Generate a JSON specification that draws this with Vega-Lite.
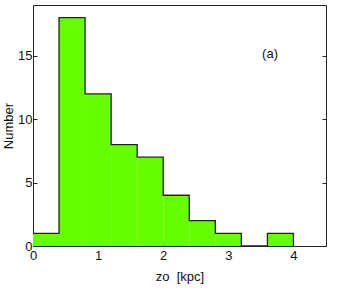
{
  "$schema": "https://vega.github.io/schema/vega-lite/v6.json",
  "width": 293,
  "height": 241,
  "autosize": {"type": "none"},
  "padding": {"left": 33, "top": 5, "right": 12, "bottom": 45},
  "background": "white",
  "config": {
    "view": {"stroke": "#222222", "strokeWidth": 1},
    "font": "Liberation Sans",
    "axis": {"grid": false, "domain": false, "tickColor": "#222222", "labelColor": "#111111", "titleColor": "#111111", "labelFontSize": 13, "titleFontSize": 13, "titleFontWeight": "normal", "labelFont": "Liberation Sans", "titleFont": "Liberation Sans"}
  },
  "datasets": {
    "bins": [
      {"start": 0.0, "end": 0.4, "count": 1},
      {"start": 0.4, "end": 0.8, "count": 18},
      {"start": 0.8, "end": 1.2, "count": 12},
      {"start": 1.2, "end": 1.6, "count": 8},
      {"start": 1.6, "end": 2.0, "count": 7},
      {"start": 2.0, "end": 2.4, "count": 4},
      {"start": 2.4, "end": 2.8, "count": 2},
      {"start": 2.8, "end": 3.2, "count": 1},
      {"start": 3.2, "end": 3.6, "count": 0},
      {"start": 3.6, "end": 4.0, "count": 1},
      {"start": 4.0, "end": 4.4, "count": 0}
    ],
    "note": [{"x": 3.64, "y": 15.1, "label": "(a)"}]
  },
  "layer": [
    {
      "data": {"name": "bins"},
      "mark": {"type": "bar", "color": "#66ff00", "strokeWidth": 0},
      "encoding": {
        "x": {"field": "start", "type": "quantitative", "scale": {"domain": [0, 4.5], "nice": false, "zero": false},
              "axis": {"title": "zo\u00a0\u00a0[kpc]", "values": [0, 1, 2, 3, 4], "format": "d", "tickSize": -4, "labelPadding": 7, "titlePadding": 8, "labelFlush": false}},
        "x2": {"field": "end"},
        "y": {"field": "count", "type": "quantitative", "scale": {"domain": [0, 19], "nice": false},
              "axis": {"title": "Number", "values": [0, 5, 10, 15], "format": "d", "tickSize": -4, "labelPadding": 5, "titlePadding": 2}},
        "y2": {"datum": 0}
      }
    },
    {
      "data": {"name": "bins"},
      "mark": {"type": "line", "interpolate": "step-after", "color": "#222222", "strokeWidth": 1.3},
      "encoding": {
        "x": {"field": "start", "type": "quantitative"},
        "y": {"field": "count", "type": "quantitative", "axis": null}
      }
    },
    {
      "data": {"name": "note"},
      "mark": {"type": "text", "fontSize": 13, "font": "Liberation Sans", "color": "#111111"},
      "encoding": {
        "x": {"field": "x", "type": "quantitative"},
        "y": {"field": "y", "type": "quantitative", "axis": {"orient": "right", "title": null, "labels": false, "values": [0, 5, 10, 15], "tickSize": -4}},
        "text": {"field": "label"}
      }
    }
  ],
  "resolve": {"axis": {"y": "independent"}}
}
